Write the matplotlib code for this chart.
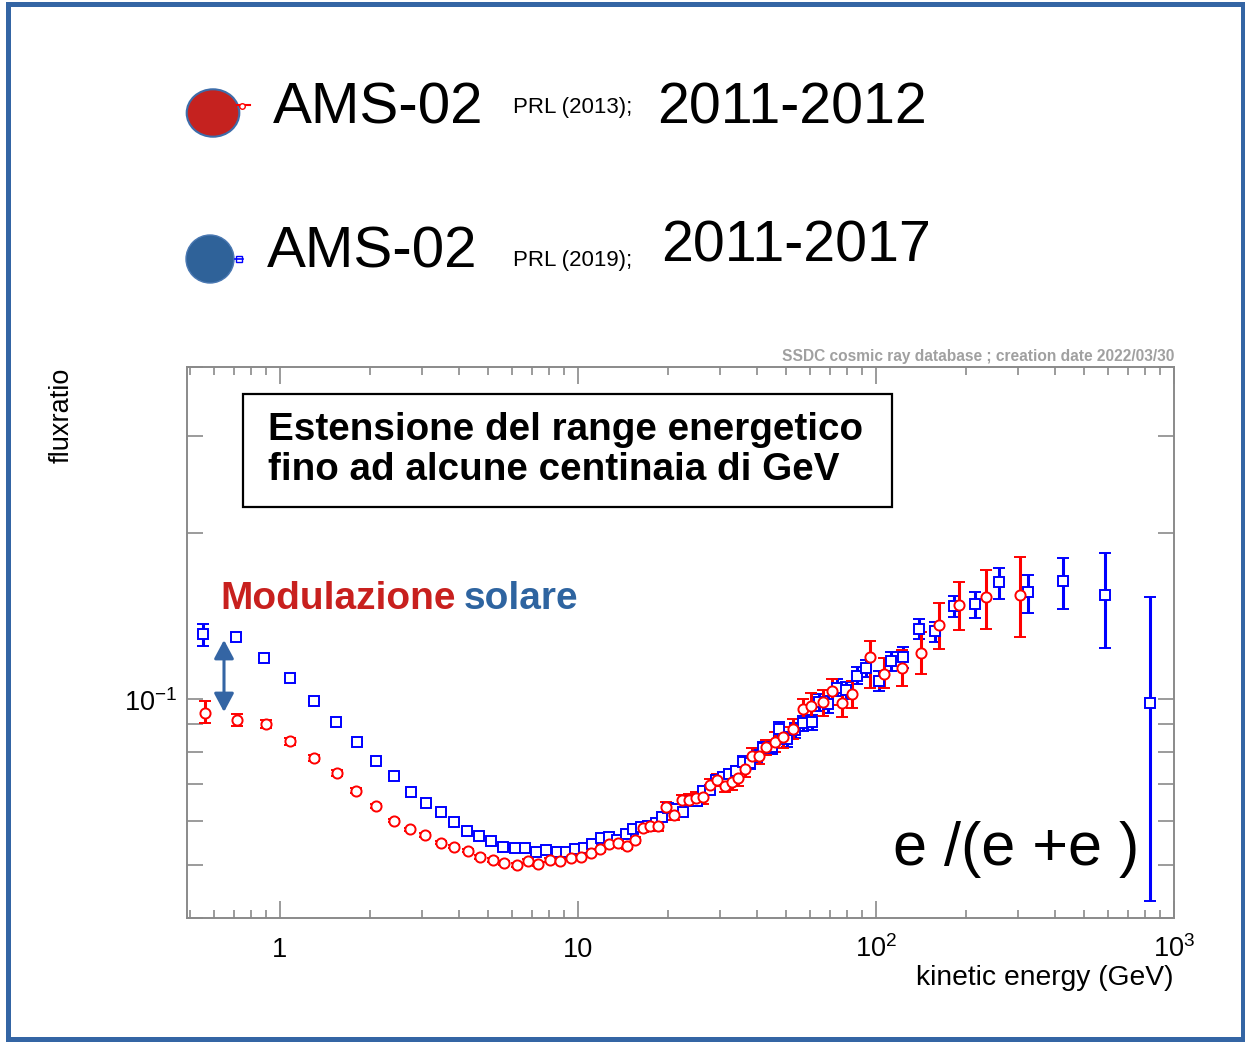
import matplotlib
matplotlib.use("Agg")
import matplotlib.pyplot as plt
from matplotlib.patches import Ellipse, Rectangle, FancyArrowPatch
from matplotlib.lines import Line2D
from matplotlib import transforms
from matplotlib.ticker import LogLocator, NullFormatter, FixedLocator

plt.rcParams['font.family'] = ['Liberation Sans', 'DejaVu Sans']
plt.rcParams['mathtext.fontset'] = 'custom'
plt.rcParams['mathtext.rm'] = 'Liberation Sans'

# ---------------- data ----------------
# AMS-02 PRL (2013), 2011-2012 (red circles)
red_E = [0.560, 0.716, 0.895, 1.080, 1.305, 1.550, 1.803, 2.100, 2.418, 2.725,
         3.074, 3.470, 3.828, 4.284, 4.701, 5.173, 5.657, 6.228, 6.780, 7.360,
         8.054, 8.720, 9.495, 10.27, 11.03, 11.85, 12.71, 13.59, 14.57, 15.54,
         16.49, 17.44, 18.56, 19.74, 21.00, 22.34, 23.63, 24.89, 26.33, 27.73,
         29.34, 31.14, 32.8, 34.5, 36.3, 38.3, 40.6, 42.8, 45.8, 48.9,
         52.5, 56.8, 60.5, 66.6, 71.0, 76.7, 82.9, 95.5, 106.6, 122.6,
         141.3, 163.1, 189.5, 233.9, 304.2]
red_F = [0.0944, 0.0915, 0.0900, 0.0837, 0.0782, 0.0732, 0.0681, 0.0639, 0.0601, 0.0579,
         0.0566, 0.0548, 0.0539, 0.0530, 0.0516, 0.0510, 0.0504, 0.0499, 0.0508, 0.0502,
         0.0510, 0.0508, 0.0513, 0.0516, 0.0525, 0.0533, 0.0545, 0.0548, 0.0540, 0.0554,
         0.0583, 0.0587, 0.0588, 0.0637, 0.0614, 0.0656, 0.0655, 0.0661, 0.0662, 0.0698,
         0.0712, 0.0695, 0.0705, 0.0718, 0.0746, 0.0788, 0.0788, 0.0816, 0.0836, 0.0851,
         0.0881, 0.0958, 0.0971, 0.0985, 0.1031, 0.0981, 0.1020, 0.1189, 0.1111, 0.1137,
         0.1213, 0.1361, 0.1479, 0.1527, 0.1544]
red_err_lo = [0.0041, 0.0022, 0.0015, 0.0012, 0.0010, 0.0009, 0.0007, 0.0005, 0.0004, 0.0004,
              0.0004, 0.0004, 0.0004, 0.0004, 0.0004, 0.0004, 0.0004, 0.0004, 0.0004, 0.0004,
              0.0004, 0.0004, 0.0004, 0.0004, 0.0005, 0.0005, 0.0006, 0.0006, 0.0007, 0.0007,
              0.0010, 0.0011, 0.0012, 0.0013, 0.0012, 0.0013, 0.0017, 0.0017, 0.0017, 0.0018,
              0.0019, 0.0018, 0.0023, 0.0024, 0.0025, 0.0026, 0.0026, 0.0027, 0.0035, 0.0036,
              0.0037, 0.0040, 0.0053, 0.0054, 0.0057, 0.0054, 0.0056, 0.0141, 0.0066, 0.0081,
              0.0104, 0.0130, 0.0145, 0.0186, 0.0247]
red_err_hi = [0.0045, 0.0024, 0.0015, 0.0012, 0.0010, 0.0009, 0.0007, 0.0005, 0.0004, 0.0004,
              0.0004, 0.0004, 0.0004, 0.0004, 0.0004, 0.0004, 0.0004, 0.0004, 0.0004, 0.0004,
              0.0004, 0.0004, 0.0004, 0.0004, 0.0005, 0.0005, 0.0006, 0.0006, 0.0007, 0.0007,
              0.0010, 0.0011, 0.0012, 0.0013, 0.0012, 0.0013, 0.0017, 0.0017, 0.0017, 0.0018,
              0.0019, 0.0018, 0.0023, 0.0024, 0.0025, 0.0026, 0.0026, 0.0027, 0.0035, 0.0036,
              0.0037, 0.0040, 0.0053, 0.0054, 0.0057, 0.0054, 0.0056, 0.0085, 0.0074, 0.0090,
              0.0106, 0.0134, 0.0153, 0.0187, 0.0261]

# AMS-02 PRL (2019), 2011-2017 (blue squares)
blue_E = [0.551, 0.712, 0.884, 1.080, 1.300, 1.542, 1.809, 2.100, 2.413, 2.746,
          3.090, 3.470, 3.828, 4.232, 4.644, 5.107, 5.603, 6.147, 6.658, 7.246,
          7.826, 8.483, 9.093, 9.770, 10.47, 11.17, 11.92, 12.71, 13.55, 14.46,
          15.33, 16.23, 17.22, 18.27, 19.18, 20.0, 21.33, 22.56, 23.63, 25.02,
          26.33, 27.73, 29.05, 30.74, 32.2, 33.9, 35.7, 37.8, 39.8, 41.9,
          44.7, 47.3, 50.2, 53.5, 57.0, 60.8, 64.5, 68.9, 73.8, 79.3,
          86.1, 92.6, 102.0, 112.0, 123.5, 139.4, 157.4, 182.7, 214.4, 259.3,
          324.4, 425.0, 586.8, 830.9]
blue_F = [0.1312, 0.1296, 0.1187, 0.1092, 0.0992, 0.0908, 0.0833, 0.0772, 0.0725, 0.0678,
          0.0646, 0.0622, 0.0598, 0.0576, 0.0564, 0.0551, 0.0539, 0.0536, 0.0537, 0.0528,
          0.0531, 0.0527, 0.0528, 0.0534, 0.0537, 0.0546, 0.0558, 0.0560, 0.0555, 0.0568,
          0.0580, 0.0586, 0.0588, 0.0596, 0.0609, 0.0633, 0.0631, 0.0624, 0.0653, 0.0651,
          0.0681, 0.0683, 0.0712, 0.0720, 0.0730, 0.0740, 0.0769, 0.0763, 0.0788, 0.0814,
          0.0816, 0.0881, 0.0845, 0.0877, 0.0902, 0.0906, 0.0985, 0.0978, 0.1048, 0.1037,
          0.1101, 0.1137, 0.1078, 0.1169, 0.1189, 0.1338, 0.1325, 0.1475, 0.1485, 0.1628,
          0.1559, 0.1637, 0.1542, 0.0982]
blue_err_lo = [0.0064, 0.0018, 0.0008, 0.0006, 0.0005, 0.0004, 0.0004, 0.0004, 0.0004, 0.0004,
               0.0003, 0.0003, 0.0003, 0.0003, 0.0003, 0.0003, 0.0003, 0.0003, 0.0003, 0.0003,
               0.0003, 0.0003, 0.0003, 0.0003, 0.0003, 0.0004, 0.0004, 0.0004, 0.0004, 0.0004,
               0.0005, 0.0005, 0.0005, 0.0006, 0.0006, 0.0008, 0.0008, 0.0009, 0.0010, 0.0011,
               0.0012, 0.0012, 0.0013, 0.0014, 0.0015, 0.0016, 0.0018, 0.0019, 0.0020, 0.0022,
               0.0023, 0.0025, 0.0026, 0.0027, 0.0028, 0.0030, 0.0033, 0.0034, 0.0036, 0.0037,
               0.0039, 0.0040, 0.0043, 0.0047, 0.0050, 0.0055, 0.0060, 0.0070, 0.0083, 0.0110,
               0.0126, 0.0182, 0.0306, 0.0552]
blue_err_hi = [0.0055, 0.0018, 0.0008, 0.0006, 0.0005, 0.0004, 0.0004, 0.0004, 0.0004, 0.0004,
               0.0003, 0.0003, 0.0003, 0.0003, 0.0003, 0.0003, 0.0003, 0.0003, 0.0003, 0.0003,
               0.0003, 0.0003, 0.0003, 0.0003, 0.0003, 0.0004, 0.0004, 0.0004, 0.0004, 0.0004,
               0.0005, 0.0005, 0.0005, 0.0006, 0.0006, 0.0008, 0.0008, 0.0009, 0.0010, 0.0011,
               0.0012, 0.0012, 0.0013, 0.0014, 0.0015, 0.0016, 0.0018, 0.0019, 0.0020, 0.0022,
               0.0023, 0.0025, 0.0026, 0.0027, 0.0028, 0.0030, 0.0033, 0.0034, 0.0036, 0.0037,
               0.0039, 0.0040, 0.0043, 0.0047, 0.0050, 0.0055, 0.0054, 0.0063, 0.0079, 0.0098,
               0.0120, 0.0163, 0.0299, 0.0545]

x_tick_vals = [1, 10, 100, 1000]
x_tick_labels = ['1', '10', r'$\mathregular{10^{2}}$', r'$\mathregular{10^{3}}$']
y_tick_vals = [0.1]
y_tick_labels = [r'$\mathregular{10^{-1}}$']

# ---------------- figure ----------------
W, H = 1245, 1042
fig = plt.figure(figsize=(W / 100, H / 100), dpi=100)
fig.patch.set_facecolor('white')


def fx(px):
    return px / W


def fy(py):
    return 1 - py / H


ax = fig.add_axes([fx(187), fy(918), (1174 - 187) / W, (918 - 367) / H])
ax.set_xscale('log')
ax.set_yscale('log')
ax.set_xlim(0.4875, 1000)
ax.set_ylim(0.04, 0.4)

gray = '#8a8a8a'
for s in ax.spines.values():
    s.set_color(gray)
    s.set_linewidth(1.4)

ax.xaxis.set_major_locator(FixedLocator(x_tick_vals))
ax.xaxis.set_minor_locator(LogLocator(base=10, subs=range(2, 10), numticks=20))
ax.yaxis.set_major_locator(FixedLocator(y_tick_vals))
ax.yaxis.set_minor_locator(LogLocator(base=10, subs=range(2, 10), numticks=20))
ax.xaxis.set_minor_formatter(NullFormatter())
ax.yaxis.set_minor_formatter(NullFormatter())
ax.tick_params(which='both', direction='in', top=True, right=True, color=gray, width=1.2,
               labelbottom=False, labelleft=False)
ax.tick_params(axis='x', which='major', length=12)
ax.tick_params(axis='x', which='minor', length=6)
ax.tick_params(axis='y', which='both', length=11.5)

ax.errorbar(blue_E, blue_F, yerr=[blue_err_lo, blue_err_hi], fmt='s', ms=6.8,
            mfc='white', mec='#0000ff', mew=1.4, ecolor='#0000ff', elinewidth=2.2,
            capsize=4, capthick=2.2, zorder=3)
ax.errorbar(red_E, red_F, yerr=[red_err_lo, red_err_hi], fmt='o', ms=7.3,
            mfc='white', mec='#ff0000', mew=1.4, ecolor='#ff0000', elinewidth=2.2,
            capsize=4, capthick=2.2, zorder=3)

# tick labels (ROOT style, baseline-aligned)
tx = transforms.offset_copy(transforms.blended_transform_factory(ax.transData, ax.transAxes),
                            fig=fig, x=0, y=-39, units='dots')
for v, lab in zip(x_tick_vals, x_tick_labels):
    ax.text(v, 0, lab, transform=tx, ha='center', va='baseline', fontsize=19.5, color='black')
ty = transforms.offset_copy(transforms.blended_transform_factory(fig.transFigure, ax.transData),
                            fig=fig, x=0, y=-12, units='dots')
for v, lab in zip(y_tick_vals, y_tick_labels):
    ax.text(fx(177), v, lab, transform=ty, ha='right', va='baseline', fontsize=19.5, color='black')

# axis titles
fig.text(fx(1174), fy(985), 'kinetic energy (GeV)', ha='right', va='baseline', fontsize=20.3)
fig.text(fx(62), fy(368), 'fluxratio', ha='center', va='top', rotation=90, fontsize=19.5)
fig.text(fx(1174), fy(361), 'SSDC cosmic ray database ; creation date 2022/03/30',
         ha='right', va='baseline', fontsize=11.2, fontweight='bold', color='#a0a0a0')

# annotation box
fig.patches.append(Rectangle((fx(243), fy(507)), (892 - 243) / W, (507 - 394) / H,
                             transform=fig.transFigure, fc='white', ec='black', lw=1.6, zorder=5))
fig.text(fx(268), fy(440), 'Estensione del range energetico', ha='left', va='baseline',
         fontsize=27.8, fontweight='bold', zorder=6)
fig.text(fx(268), fy(480), 'fino ad alcune centinaia di GeV', ha='left', va='baseline',
         fontsize=27.8, fontweight='bold', zorder=6)

# solar modulation
fig.text(fx(220), fy(609), 'Modulazione', ha='left', va='baseline', fontsize=28,
         fontweight='bold', color='#c8201e', zorder=6)
fig.text(fx(464), fy(609), 'solare', ha='left', va='baseline', fontsize=28,
         fontweight='bold', color='#2e64a0', zorder=6)
fig.patches.append(FancyArrowPatch((fx(224), fy(712)), (fx(224), fy(640)),
                                   transform=fig.transFigure,
                                   arrowstyle='<|-|>,head_length=0.75,head_width=0.4',
                                   mutation_scale=15, color='#3465a4', lw=2.2,
                                   shrinkA=0, shrinkB=0, zorder=6))

# e+/(e-+e+)
fig.text(fx(893), fy(865), 'e /(e +e )', ha='left', va='baseline', fontsize=44, zorder=6)

# top legend
fig.patches.append(Ellipse((fx(213), fy(113)), 52.6 / W, 47.4 / H, transform=fig.transFigure,
                           fc='#c5221f', ec='#3d6daa', lw=1.5, zorder=5))
fig.patches.append(Ellipse((fx(210), fy(259)), 48 / W, 48 / H, transform=fig.transFigure,
                           fc='#2f6299', ec='#4a78b2', lw=1.0, zorder=5))
fig.lines.append(Line2D([fx(237), fx(250)], [fy(105), fy(105)], transform=fig.transFigure,
                        color='#ff0000', lw=1.5, zorder=6))
fig.lines.append(Line2D([fx(241.5)], [fy(105.5)], transform=fig.transFigure, marker='o', ms=4,
                        mfc='white', mec='#ff0000', mew=1.0, zorder=7))
fig.lines.append(Line2D([fx(235), fx(243)], [fy(259), fy(259)], transform=fig.transFigure,
                        color='#0000ff', lw=1.2, zorder=6))
fig.lines.append(Line2D([fx(238.7)], [fy(258.7)], transform=fig.transFigure, marker='s', ms=4.5,
                        mfc='none', mec='#0000ff', mew=1.0, zorder=7))

fig.text(fx(273), fy(123), 'AMS-02', ha='left', va='baseline', fontsize=42)
fig.text(fx(513), fy(113), 'PRL (2013);', ha='left', va='baseline', fontsize=16)
fig.text(fx(657), fy(123), '2011-2012', ha='left', va='baseline', fontsize=41.3)
fig.text(fx(267), fy(268), 'AMS-02', ha='left', va='baseline', fontsize=42)
fig.text(fx(513), fy(266), 'PRL (2019);', ha='left', va='baseline', fontsize=16)
fig.text(fx(661), fy(262), '2011-2017', ha='left', va='baseline', fontsize=41.3)

# outer border
fig.patches.append(Rectangle((fx(8), fy(1039)), (1243 - 8) / W, (1039 - 4) / H,
                             transform=fig.transFigure, fill=False, ec='#3465a4', lw=3.6, zorder=10))

fig.savefig('out.png', dpi=100)
